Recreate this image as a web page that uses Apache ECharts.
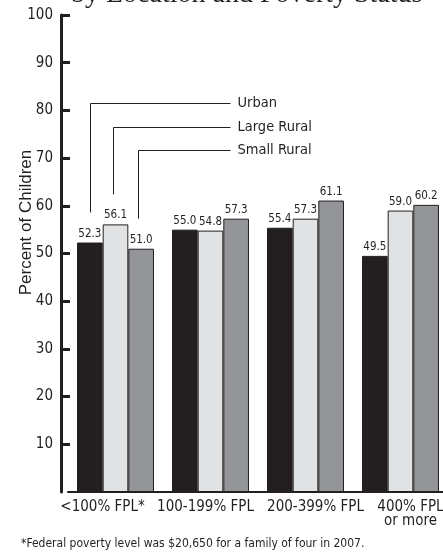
<!DOCTYPE html>
<html>
<head>
<meta charset="utf-8">
<script src="https://cdn.jsdelivr.net/npm/echarts@6/dist/echarts.min.js"></script>
<style>
html,body{margin:0;padding:0;background:#fff;}
#c{width:443px;height:556px;}
</style>
</head>
<body>
<div id="c"></div>
<script>
const categories = ['<100% FPL*', '100-199% FPL', '200-399% FPL', '400% FPL\nor more'];
const seriesNames = ['Urban', 'Large Rural', 'Small Rural'];
const urban = [52.3, 55.0, 55.4, 49.5];
const largeRural = [56.1, 54.8, 57.3, 59.0];
const smallRural = [51.0, 57.3, 61.1, 60.2];
const yTicks = [0, 10, 20, 30, 40, 50, 60, 70, 80, 90, 100];
const titleText = 'by Location and Poverty Status';
const yAxisName = 'Percent of Children';
const footnote = '*Federal poverty level was $20,650 for a family of four in 2007.';

const NARROW = "'Liberation Sans Narrow', 'Arial Narrow', 'DejaVu Sans Condensed', sans-serif";
const INK = '#231f20';
const colors = ['#231f20', '#e1e2e4', '#939598'];
// horizontal nudges of the category labels (px), as placed in the original
const labelShift = [-13, -5, 10, 10];

const chart = echarts.init(document.getElementById('c'), null, {renderer: 'canvas'});

const values = [urban, largeRural, smallRural];
const option = {
  animation: false,
  backgroundColor: '#fff',
  title: {
    text: titleText,
    left: 66,
    top: -24,
    textStyle: {fontFamily: "'Liberation Serif', serif", fontSize: 28, fontWeight: 'normal', color: INK}
  },
  grid: {left: 68, right: -5, top: 15, bottom: 64, containLabel: false, outerBoundsMode: 'none'},
  xAxis: {
    type: 'category',
    data: categories.map((c, i) => ({
      value: c,
      textStyle: {padding: labelShift[i] >= 0 ? [0, 0, 0, 2 * labelShift[i]] : [0, -2 * labelShift[i], 0, 0]}
    })),
    axisLine: {lineStyle: {color: INK, width: 2}},
    axisTick: {inside: true, length: 11, lineStyle: {color: INK, width: 2}},
    axisLabel: {
      color: INK, fontFamily: NARROW, fontSize: 15, margin: 8, lineHeight: 14,
      interval: 0, hideOverlap: false
    }
  },
  yAxis: {
    type: 'value',
    min: yTicks[0],
    max: yTicks[yTicks.length - 1],
    interval: yTicks[1] - yTicks[0],
    offset: 7,
    name: yAxisName,
    nameLocation: 'middle',
    nameRotate: 90,
    nameGap: 26,
    nameMoveOverlap: false,
    nameTextStyle: {color: INK, fontFamily: "'Liberation Sans', sans-serif", fontSize: 17, padding: [0, 0, 0, 62]},
    axisLine: {show: true, lineStyle: {color: INK, width: 3}},
    axisTick: {show: true, inside: true, length: 9, lineStyle: {color: INK, width: 3}},
    splitLine: {show: false},
    axisLabel: {
      color: INK, fontFamily: NARROW, fontSize: 15, margin: 8,
      showMinLabel: false,
      formatter: v => (v === 0 ? '' : String(v))
    }
  },
  series: seriesNames.map((name, i) => ({
    name: name,
    type: 'bar',
    data: values[i],
    barGap: '0%',
    barCategoryGap: '19%',
    itemStyle: {color: colors[i], borderColor: INK, borderWidth: 1},
    label: {
      show: true, position: 'top', distance: 3,
      color: INK, fontFamily: NARROW, fontSize: 11.5,
      formatter: p => p.value.toFixed(1)
    }
  })),
  graphic: [{
    type: 'text',
    left: 21,
    bottom: 6,
    style: {text: footnote, fill: INK, font: "12px " + NARROW}
  }]
};
chart.setOption(option);

// Leader-line legend built from library-computed bar layouts
const legendLevels = [81.6, 76.6, 71.7];
const gapAbove = 6.3;
const lineEndX = chart.convertToPixel({xAxisIndex: 0}, 1) + 20;
const g = [];
seriesNames.forEach((name, i) => {
  const lay = chart.getModel().getSeriesByIndex(i).getData().getItemLayout(0);
  const cx = Math.round(lay.x + lay.width / 2) - (i === 0 ? 0 : 3) + 0.5;
  const yTop = Math.round(chart.convertToPixel({yAxisIndex: 0}, legendLevels[i])) + 0.5;
  const yBot = chart.convertToPixel({yAxisIndex: 0}, values[i][0] + gapAbove);
  g.push({
    type: 'polyline',
    shape: {points: [[cx, yBot], [cx, yTop], [lineEndX, yTop]]},
    style: {stroke: INK, lineWidth: 1, fill: null}
  });
  g.push({
    type: 'text',
    x: lineEndX + 7,
    y: yTop,
    style: {text: name, fill: INK, font: "14.5px " + NARROW, verticalAlign: 'middle'}
  });
});
chart.setOption({graphic: option.graphic.concat(g)});
</script>
</body>
</html>
